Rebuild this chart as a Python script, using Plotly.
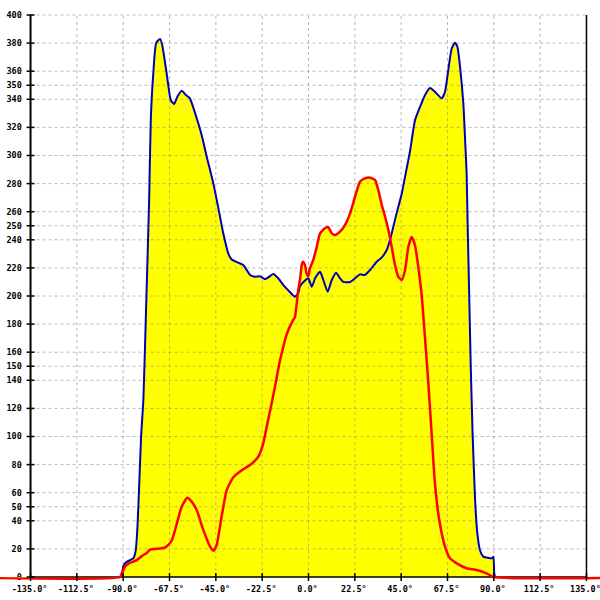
import plotly.graph_objects as go

# ---------------- data ----------------
blue_angles = [-90.7, -89.9, -88.6, -86.7, -85.0, -83.9, -83.1, -82.5, -81.3, -80.2, -78.9, -77.4, -76.6,
               -75.4, -74.0, -72.1, -71.1, -68.9, -66.9, -65.3, -63.7, -61.6, -59.5, -57.6, -54.3, -51.9,
               -49.4, -46.2, -43.3, -41.4, -38.9, -37.3, -34.1, -31.7, -30.0, -28.4, -26.0, -23.6, -21.1,
               -19.5, -17.1, -14.7, -12.2, -9.8, -6.6, -5.0, -4.1, -1.7, -0.1, 1.6, 3.2, 5.6, 7.2, 9.3,
               11.3, 13.4, 15.3, 16.9, 20.2, 22.6, 25.0, 27.4, 29.9, 33.1, 35.6, 38.0, 39.6, 41.2, 42.8,
               45.3, 46.9, 49.3, 51.7, 54.2, 56.6, 59.0, 61.4, 64.7, 66.3, 67.9, 69.5, 71.1, 72.3, 73.6,
               75.2, 76.0, 76.8, 77.3, 78.1, 78.8, 79.7, 80.9, 82.0, 83.3, 84.9, 89.0, 89.8, 90.2, 90.6]
blue_values = [0, 8, 10.5, 12, 13.5, 19, 35, 55, 100, 126, 190, 268, 325,
               358, 380, 383, 379, 358.5, 339.5, 336.6, 341.8, 346, 343, 340.7, 326.5, 314.6,
               299, 280, 259, 244.6, 230, 226, 223.7, 222, 218.5, 215, 213.7, 214, 212,
               213.3, 215.7, 212.6, 207.8, 204, 199.5, 202, 207, 211, 212.6, 206.6, 212.6, 217.3, 211.4, 203,
               211.4, 216.6, 212.6, 210, 210, 212.6, 215.4, 215, 218.5, 224.4, 227.5, 232.7, 240, 249.3, 259,
               273, 285, 303, 325, 334.7, 343, 348, 345.4, 340.7, 345.4, 361, 376, 380.3, 377.5, 363,
               337, 313, 287, 250, 197, 150, 102, 55, 31, 19, 14.5, 13.3, 14.5, 2.6, 0]

red_angles = [-180, -91.5, -90.7, -89.1, -87.5, -83.4, -80.2, -78.6, -77.0, -75.4, -71.3, -69.7, -68.1, -66.4,
              -64.8, -61.6, -58.9, -56.7, -54.3, -51.1, -47.8, -46.2, -44.6, -42.2, -39.7, -36.5, -32.4,
              -28.4, -24.4, -22.0, -20.3, -17.9, -16.3, -13.8, -12.2, -11.4, -9.8, -7.4, -6.6, -5.7, -5.0,
              -4.1, -3.3, -2.7, -1.7, -0.9, -0.1, 0.7, 2.3, 4.0, 5.6, 8.0, 9.6, 11.3, 12.9, 15.3, 17.7,
              20.2, 22.6, 25.0, 27.4, 29.9, 32.3, 33.9, 35.6, 37.2, 38.8, 40.4, 42.0, 43.6, 45.3, 46.9,
              48.5, 50.1, 51.7, 53.3, 55.0, 56.6, 58.2, 59.8, 61.4, 63.5, 66.3, 68.7, 72.0, 76.8, 81.7,
              86.5, 89.8, 180]
red_values = [0, 0, 2.6, 7.3, 9.5, 12, 15.6, 17, 19.5, 20, 20.4, 21, 22.8, 26,
              33.5, 50, 56.4, 53.6, 47.7, 33.5, 21.6, 18.7, 22.8, 43, 62, 71, 76,
              79.7, 85.6, 95, 107, 123.6, 135.4, 154.4, 164, 168.7, 175.8, 183, 185, 195, 204,
              212, 222, 224.4, 222, 216, 214, 219.7, 225.6, 235, 244.6, 248.2, 249, 244.6, 243.4, 245.8, 250.5,
              258.8, 270.7, 281.3, 283.7, 284.2, 282.6, 275.4, 264.8, 256.4, 247, 235, 222, 213.7, 211.4, 218.5,
              235, 242, 236.3, 221, 200, 170, 137.9, 102, 66.7, 40.6, 21.6, 13.3, 9.7, 6.2, 5,
              2.6, 0, 0]

x_ticks = [-135.0, -112.5, -90.0, -67.5, -45.0, -22.5, 0.0, 22.5, 45.0, 67.5, 90.0, 112.5, 135.0]
x_tick_labels = [f"{v:.1f}\u00b0" for v in x_ticks]
y_ticks = [0, 20, 40, 50, 60, 80, 100, 120, 140, 150, 160, 180, 200, 220, 240, 250, 260, 280, 300,
           320, 340, 350, 360, 380, 400]
y_tick_labels = [str(v) for v in y_ticks]

X_MIN, X_MAX = -135.0, 135.0
Y_MIN, Y_MAX = 0, 400

FILL = "#ffff00"
BLUE = "#0000b4"
RED = "#ff0000"
GRID = "rgba(140,140,140,0.6)"
SMOOTH = 0.5

fig = go.Figure()

# yellow areas
fig.add_trace(go.Scatter(x=blue_angles, y=blue_values, mode="lines", fill="tozeroy", fillcolor=FILL,
                         line=dict(width=0, color=FILL, shape="spline", smoothing=SMOOTH),
                         hoverinfo="skip", showlegend=False))
fig.add_trace(go.Scatter(x=red_angles, y=red_values, mode="lines", fill="tozeroy", fillcolor=FILL,
                         line=dict(width=0, color=FILL, shape="spline", smoothing=SMOOTH),
                         hoverinfo="skip", showlegend=False))

# grid (drawn over the yellow fill)
gx, gy = [], []
for v in x_ticks:
    if v in (X_MIN, X_MAX):
        continue
    gx += [v, v, None]
    gy += [Y_MIN, Y_MAX, None]
for v in y_ticks:
    if v == 0:
        continue
    gx += [X_MIN, X_MAX, None]
    gy += [v, v, None]
fig.add_trace(go.Scatter(x=gx, y=gy, mode="lines", line=dict(color=GRID, width=1, dash="3px,3px"),
                         hoverinfo="skip", showlegend=False))

# frame: bottom axis line under the curves
fig.add_trace(go.Scatter(x=[X_MIN, X_MAX], y=[0, 0], mode="lines", line=dict(color="black", width=1.5),
                         hoverinfo="skip", showlegend=False))

# curves
fig.add_trace(go.Scatter(x=blue_angles, y=blue_values, mode="lines",
                         line=dict(color=BLUE, width=2, shape="spline", smoothing=SMOOTH), showlegend=False))
fig.add_trace(go.Scatter(x=red_angles, y=red_values, mode="lines",
                         line=dict(color=RED, width=2.5, shape="spline", smoothing=SMOOTH), showlegend=False))

# side axis lines and tick marks crossing the axes
shapes = [
    dict(type="line", xref="x", yref="y", x0=X_MIN, x1=X_MIN, y0=Y_MIN, y1=Y_MAX,
         line=dict(color="black", width=2), layer="above"),
    dict(type="line", xref="x", yref="y", x0=X_MAX, x1=X_MAX, y0=Y_MIN, y1=Y_MAX,
         line=dict(color="black", width=1.5), layer="above"),
]
for v in x_ticks:
    shapes.append(dict(type="line", xref="x", yref="y", x0=v, x1=v, ysizemode="pixel", yanchor=0,
                       y0=-4, y1=4, line=dict(color="black", width=1.5), layer="above"))
for v in y_ticks:
    shapes.append(dict(type="line", yref="y", xref="x", y0=v, y1=v, xsizemode="pixel", xanchor=X_MIN,
                       x0=-4, x1=4, line=dict(color="black", width=1.5), layer="above"))

font = dict(family="DejaVu Sans Mono", size=8.5, color="black", weight="bold")

fig.update_layout(
    width=600, height=600,
    margin=dict(l=0, r=0, t=10, b=15),
    paper_bgcolor="white", plot_bgcolor="white",
    hovermode=False,
    shapes=shapes,
    xaxis=dict(range=[-149.83, 141.57], anchor="free", position=0.01391, showgrid=False, zeroline=False,
               showline=False, tickmode="array", tickvals=x_ticks, ticktext=x_tick_labels,
               ticks="outside", ticklen=4, tickcolor="rgba(0,0,0,0)", tickfont=font,
               ticklabeloverflow="allow", ticklabelshift=-1,
               automargin=False, layer="below traces", fixedrange=True),
    yaxis=dict(range=[-5.69, 403.56], anchor="free", position=0.0508, showgrid=False, zeroline=False,
               showline=False, tickmode="array", tickvals=y_ticks, ticktext=y_tick_labels,
               ticks="outside", ticklen=4, tickcolor="rgba(0,0,0,0)", tickfont=font,
               ticklabelstandoff=3, ticklabeloverflow="allow",
               automargin=False, layer="below traces", fixedrange=True),
)

# remove the default page margin so the 600x600 figure fills the window exactly
fig.write_html("out.html", config={"displayModeBar": False},
               post_script="document.body.style.margin='0px';"
                           "document.body.style.overflow='hidden';"
                           "document.documentElement.style.overflow='hidden';")
